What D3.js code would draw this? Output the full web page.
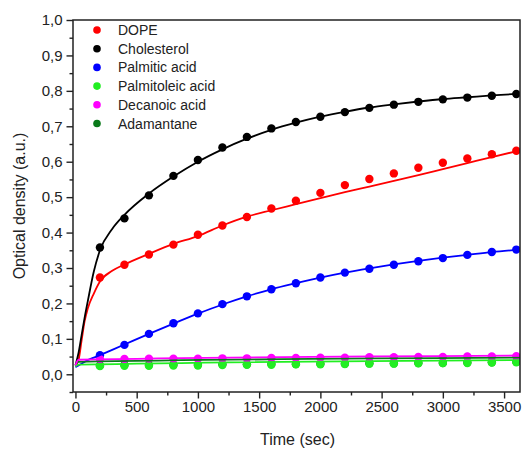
<!DOCTYPE html>
<html>
<head>
<meta charset="utf-8">
<script src="https://cdn.jsdelivr.net/npm/d3@7"></script>
<style>
  body { margin: 0; background: #fff; }
  svg { display: block; font-family: "Liberation Sans", Arial, sans-serif; }
</style>
</head>
<body>
<svg width="524" height="449"></svg>
<script>
// measured points, every 200 s
const times = [200, 400, 600, 800, 1000, 1200, 1400, 1600, 1800, 2000, 2200, 2400, 2600, 2800, 3000, 3200, 3400, 3600];

const dope = [0.273, 0.309, 0.338, 0.366, 0.394, 0.42, 0.444, 0.468, 0.49, 0.512, 0.534, 0.551, 0.567, 0.583, 0.597, 0.609, 0.621, 0.631];
const cholesterol = [0.358, 0.44, 0.505, 0.56, 0.605, 0.64, 0.67, 0.694, 0.712, 0.727, 0.74, 0.752, 0.761, 0.769, 0.776, 0.781, 0.786, 0.791];
const palmitic = [0.054, 0.083, 0.114, 0.144, 0.172, 0.198, 0.22, 0.24, 0.257, 0.273, 0.287, 0.298, 0.309, 0.319, 0.328, 0.337, 0.345, 0.352];
const palmitoleic = [0.023, 0.024, 0.024, 0.025, 0.025, 0.026, 0.027, 0.027, 0.028, 0.028, 0.029, 0.03, 0.03, 0.031, 0.032, 0.032, 0.033, 0.034];
const decanoic = [0.043, 0.043, 0.044, 0.044, 0.044, 0.045, 0.045, 0.046, 0.046, 0.047, 0.047, 0.048, 0.048, 0.049, 0.049, 0.05, 0.05, 0.051];
const adamantane = [0.025, 0.026, 0.026, 0.027, 0.027, 0.028, 0.028, 0.029, 0.029, 0.03, 0.03, 0.031, 0.031, 0.032, 0.032, 0.033, 0.034, 0.035];

// fitted curves
const fitTimes = [0, 25, 50, 75, 100, 150, 200, 300, 400, 600, 800, 1000, 1200, 1400, 1600, 1800, 2000, 2200, 2400, 2600, 2800, 3000, 3200, 3400, 3630];
const dopeFit = [0.025, 0.04, 0.095, 0.15, 0.185, 0.228, 0.262, 0.292, 0.31, 0.34, 0.368, 0.39, 0.42, 0.445, 0.463, 0.48, 0.497, 0.514, 0.53, 0.546, 0.562, 0.579, 0.596, 0.613, 0.632];
const cholesterolFit = [0.025, 0.06, 0.11, 0.16, 0.205, 0.29, 0.35, 0.41, 0.45, 0.51, 0.558, 0.6, 0.635, 0.665, 0.69, 0.71, 0.727, 0.741, 0.753, 0.762, 0.77, 0.777, 0.782, 0.787, 0.792];
const palmiticFit = [0.02, 0.025, 0.03, 0.035, 0.04, 0.047, 0.054, 0.069, 0.084, 0.114, 0.143, 0.171, 0.197, 0.22, 0.24, 0.257, 0.273, 0.287, 0.299, 0.31, 0.32, 0.329, 0.337, 0.345, 0.352];
const flatTimes = [0, 25, 3630];
const palmitoleicFit = [0.022, 0.027, 0.04];
const decanoicFit = [0.025, 0.041, 0.053];
const adamantaneFit = [0.025, 0.035, 0.047];

const names = ['DOPE', 'Cholesterol', 'Palmitic acid', 'Palmitoleic acid', 'Decanoic acid', 'Adamantane'];
const colors = ['#ff0000', '#000000', '#0000ff', '#22ee22', '#ff00ff', '#0a7a1a'];
const xTicks = [0, 500, 1000, 1500, 2000, 2500, 3000, 3500];
const yTicks = [0, 0.1, 0.2, 0.3, 0.4, 0.5, 0.6, 0.7, 0.8, 0.9, 1.0];

const series = [
  { name: names[0], color: colors[0], pts: dope, fitT: fitTimes, fit: dopeFit },
  { name: names[1], color: colors[1], pts: cholesterol, fitT: fitTimes, fit: cholesterolFit },
  { name: names[2], color: colors[2], pts: palmitic, fitT: fitTimes, fit: palmiticFit },
  { name: names[5], color: colors[5], pts: adamantane, fitT: flatTimes, fit: adamantaneFit },
  { name: names[3], color: colors[3], pts: palmitoleic, fitT: flatTimes, fit: palmitoleicFit },
  { name: names[4], color: colors[4], pts: decanoic, fitT: flatTimes, fit: decanoicFit },
];

const svg = d3.select('svg');
const m = { left: 73, right: 520, top: 20, bottom: 392 };

const x = d3.scaleLinear().domain([-20, 3630]).range([m.left, m.right]);
const y = d3.scaleLinear().domain([-0.05, 1.0]).range([m.bottom, m.top]);
const comma = v => d3.format('.1f')(v).replace('.', ',');

svg.append('defs').append('clipPath').attr('id', 'clip')
  .append('rect').attr('x', m.left).attr('y', m.top)
  .attr('width', m.right - m.left).attr('height', m.bottom - m.top);

const plot = svg.append('g').attr('clip-path', 'url(#clip)');
const line = d3.line().curve(d3.curveMonotoneX);

series.forEach((s) => {
  plot.append('g').selectAll('circle')
    .data(s.pts)
    .join('circle')
    .attr('cx', (d, i) => x(times[i]))
    .attr('cy', d => y(d))
    .attr('r', 4.2)
    .attr('fill', s.color);
});

series.forEach((s) => {
  plot.append('path')
    .attr('d', line(s.fit.map((v, i) => [x(s.fitT[i]), y(v)])))
    .attr('fill', 'none')
    .attr('stroke', s.color)
    .attr('stroke-width', 1.8);
});

// minor ticks
svg.append('g')
  .attr('transform', `translate(${m.left},0)`)
  .call(d3.axisLeft(y).tickValues(d3.range(-0.05, 1.0, 0.1)).tickSize(3.5).tickFormat(''))
  .call(g => g.select('.domain').remove())
  .selectAll('line').attr('stroke', '#222').attr('stroke-width', 1.4);

svg.append('g')
  .attr('transform', `translate(0,${m.bottom})`)
  .call(d3.axisBottom(x).tickValues(d3.range(250, 3630, 500)).tickSize(3.5).tickFormat(''))
  .call(g => g.select('.domain').remove())
  .selectAll('line').attr('stroke', '#222').attr('stroke-width', 1.4);

// major axes
const yAxis = svg.append('g')
  .attr('transform', `translate(${m.left},0)`)
  .call(d3.axisLeft(y).tickValues(yTicks).tickSize(6.5).tickPadding(4).tickFormat(comma));

const xAxis = svg.append('g')
  .attr('transform', `translate(0,${m.bottom})`)
  .call(d3.axisBottom(x).tickValues(xTicks).tickSize(6.5).tickPadding(3).tickFormat(d3.format('d')));

[yAxis, xAxis].forEach((g) => {
  g.select('.domain').remove();
  g.selectAll('line').attr('stroke', '#222').attr('stroke-width', 1.4);
  g.selectAll('text').attr('fill', '#222').style('font-size', '15px').style('font-family', '"Liberation Sans", Arial, sans-serif');
});

svg.append('rect')
  .attr('x', m.left).attr('y', m.top)
  .attr('width', m.right - m.left).attr('height', m.bottom - m.top)
  .attr('fill', 'none').attr('stroke', '#222').attr('stroke-width', 1.5);

svg.append('text')
  .attr('x', (m.left + m.right) / 2 + 1).attr('y', 445)
  .attr('text-anchor', 'middle')
  .attr('fill', '#222')
  .style('font-size', '16px')
  .text('Time (sec)');

svg.append('text')
  .attr('transform', `translate(25,${(m.top + m.bottom) / 2}) rotate(-90)`)
  .attr('text-anchor', 'middle')
  .attr('fill', '#222')
  .style('font-size', '16px')
  .text('Optical density (a.u.)');

const legend = svg.append('g').attr('transform', 'translate(97,30)');
names.forEach((n, i) => {
  const row = legend.append('g').attr('transform', `translate(0,${i * 18.7})`);
  row.append('circle').attr('r', 3.8).attr('fill', colors[i]);
  row.append('text').attr('x', 21).attr('dy', '0.36em')
    .attr('fill', '#222').style('font-size', '14px').text(n);
});
</script>
</body>
</html>
